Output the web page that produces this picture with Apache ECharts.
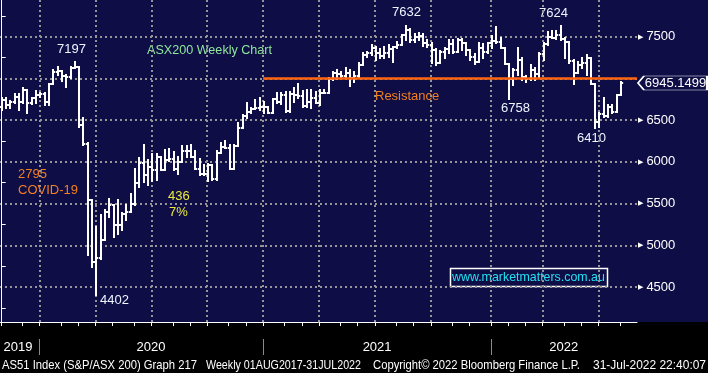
<!DOCTYPE html>
<html><head><meta charset="utf-8">
<script src="https://cdn.jsdelivr.net/npm/echarts@6/dist/echarts.min.js"></script>
<style>
html,body{margin:0;padding:0;}
#c{width:708px;height:373px;background:linear-gradient(to bottom,#0e0d46 0,#0e0d46 322px,#000 322px,#000 373px);}
</style>
</head><body><div id="c"></div>
<script>
// ---- data (weekly OHLC, first bar = week ending 2019-10-25) ----
const firstWeek = '2019-10-25';
const open  = [6660,6740,6680,6720,6780,6720,6860,6700,6760,6800,6810,6720,6930,7080,7085,7025,7020,7130,7135,6440,6215,5540,4805,4843,5060,5400,5480,5240,5245,5380,5400,5490,5752,5992,5840,5940,5900,6060,5908,6020,6028,5920,6000,6132,6132,6060,5920,5852,5860,5960,5792,6100,6172,6160,5920,6188,6400,6548,6600,6632,6640,6652,6660,6580,6748,6715,6800,6610,6810,6800,6790,6670,6720,6770,6700,6820,6830,6990,7060,7050,7030,7070,7010,7030,7160,7280,7300,7360,7300,7270,7300,7350,7380,7400,7520,7585,7460,7500,7510,7420,7400,7340,7190,7320,7350,7410,7320,7460,7420,7340,7260,7200,7360,7320,7420,7450,7440,7370,7170,6990,7100,7220,7020,6990,7100,7050,7290,7410,7500,7490,7520,7475,7440,7210,7070,7160,7180,7250,6930,6480,6575,6545,6660,6600,6800];
const high  = [6760,6765,6730,6810,6815,6885,6860,6765,6845,6830,6825,6935,7100,7140,7090,7045,7140,7197,7140,6525,6220,5545,5220,5360,5420,5560,5485,5540,5385,5480,5620,5920,6040,6200,6020,6088,6088,6060,6140,6148,6120,6060,6188,6188,6200,6132,6028,5960,5972,5960,6132,6220,6248,6200,6200,6460,6560,6700,6640,6740,6760,6720,6660,6748,6820,6830,6840,6840,6890,6930,6850,6860,6860,6840,6860,6860,7000,7080,7100,7080,7120,7100,7080,7180,7300,7320,7400,7380,7350,7380,7400,7380,7440,7520,7632,7590,7530,7550,7530,7460,7420,7350,7330,7370,7460,7460,7470,7470,7420,7340,7290,7430,7410,7430,7510,7612,7480,7370,7170,7108,7360,7240,7030,7160,7120,7300,7420,7560,7568,7568,7624,7480,7440,7220,7200,7240,7280,7250,6930,6580,6760,6680,6680,6800,6960];
const low   = [6620,6640,6640,6700,6620,6700,6590,6690,6700,6780,6680,6680,6930,7040,6970,6900,7000,7120,6420,6200,4885,4740,4402,4840,5060,5340,5100,5140,5180,5300,5395,5480,5700,5760,5720,5772,5780,5900,5900,6010,5900,5860,6000,6060,6060,5920,5840,5840,5772,5788,5788,6100,6160,5920,5920,6188,6400,6520,6580,6632,6620,6580,6580,6580,6700,6690,6600,6600,6720,6770,6660,6660,6640,6700,6680,6820,6820,6980,6990,7020,7000,6910,6960,7000,7160,7260,7280,7220,7240,7240,7260,7200,7360,7400,7460,7440,7440,7460,7390,7380,7180,7160,7180,7250,7310,7310,7320,7340,7280,7220,7170,7200,7250,7310,7370,7430,7360,7168,6758,6920,7040,6980,6960,6980,6980,7000,7220,7400,7480,7470,7460,7240,7180,6928,7070,7120,7040,6928,6410,6420,6540,6540,6580,6600,6800];
const close = [6740,6680,6720,6780,6720,6860,6700,6760,6800,6810,6720,6930,7080,7085,7025,7020,7130,7135,6440,6215,5540,4805,4843,5060,5400,5480,5240,5245,5380,5400,5490,5752,5992,5840,5940,5900,6060,5908,6020,6028,5920,6000,6132,6132,6060,5920,5852,5860,5960,5792,6100,6172,6160,5920,6188,6400,6548,6600,6632,6640,6652,6660,6580,6748,6715,6800,6610,6810,6800,6790,6670,6720,6770,6700,6820,6830,6990,7060,7050,7030,7070,7010,7030,7160,7280,7300,7360,7300,7270,7300,7350,7380,7400,7520,7585,7460,7500,7510,7420,7400,7340,7190,7320,7350,7410,7320,7460,7420,7340,7260,7200,7360,7320,7420,7450,7440,7370,7170,6990,7100,7220,7020,6990,7100,7050,7290,7410,7500,7490,7520,7475,7440,7210,7070,7160,7180,7250,6930,6480,6575,6545,6660,6600,6800,6945.1499];

const yGridValues  = [4500,5000,5500,6000,6500,7000,7500];
const yLabelValues = [4500,5000,5500,6000,6500,7500];
const yMinorValues = [4250,4750,5250,5750,6250,6750,7250,7750];
const yearLabels   = ['2019','2020','2021','2022'];
const yearLabelAt  = [3.8,34.7,87.3,130.7];   // week index where each year label is centred
const resistance = 7005;
const resistanceFrom = 60.8;                 // first week of 2021
const lastPrice = 6945.1499;
const footerParts = ['AS51 Index (S&P/ASX 200) Graph 217','Weekly 01AUG2017-31JUL2022','Copyright\u00A9 2022 Bloomberg Finance L.P.','31-Jul-2022 22:40:07'];
const footerLeft  = [2, 206, 373, 593];
const footerWidth = [195, 155, 207, 113];

// ---- week dates (category scale) ----
const totalWeeks = 149;
const weekDates = [];
{
  const t0 = Date.parse(firstWeek + 'T00:00:00Z');
  for (let i = 0; i < totalWeeks; i++) weekDates.push(new Date(t0 + i * 7 * 86400000));
}
const monthTicks = [], quarterLines = [], yearSeps = [];
for (let k = 0; k < totalWeeks - 1; k++) {
  const a = weekDates[k], b = weekDates[k + 1];
  if (a.getUTCMonth() !== b.getUTCMonth()) {
    const p = k - 0.2;
    monthTicks.push(p);
    if (b.getUTCMonth() % 3 === 0) quarterLines.push(p);
    if (b.getUTCMonth() === 0) yearSeps.push(p);
  }
}
const bars = close.map((c, k) => [k, open[k], high[k], low[k], c]);

const X_MIN = -0.395, X_MAX = 147.74;
const GRID = '#959595';
const NAVY = '#0e0d46';
const FONT = "'Liberation Sans', Arial, sans-serif";
const FOOT_SIZE = 13;

const measureCtx = document.createElement('canvas').getContext('2d');
measureCtx.font = FOOT_SIZE + "px 'Liberation Sans', Arial, sans-serif";

const chart = echarts.init(document.getElementById('c'), null, {renderer: 'canvas'});

function txt(text, x, y, color, size) {
  return {type: 'text', x: x, y: y, silent: true,
    style: {text: text, fill: color, fontSize: size || 13, fontFamily: FONT, align: 'left', verticalAlign: 'middle'}};
}
function footer(i) {
  const w = measureCtx.measureText(footerParts[i]).width || footerWidth[i];
  return {type: 'text', x: footerLeft[i], y: 365, scaleX: footerWidth[i] / w, silent: true,
    style: {text: footerParts[i], fill: '#fff', fontSize: FOOT_SIZE, fontFamily: FONT, align: 'left', verticalAlign: 'middle'}};
}

const option = {
  backgroundColor: 'transparent',
  animation: false,
  grid: {left: 0, right: 71, top: 0, bottom: 51, containLabel: false, outerBoundsMode: 'none'},
  xAxis: [
    {type: 'value', min: X_MIN, max: X_MAX, position: 'bottom',
     axisLine: {show: true, lineStyle: {color: '#fff', width: 1}},
     axisTick: {show: true, customValues: monthTicks, length: 4, lineStyle: {color: '#fff', width: 1}},
     axisLabel: {show: false}, splitLine: {show: false}},
    {type: 'value', min: X_MIN, max: X_MAX, position: 'bottom',
     axisLine: {show: false},
     axisTick: {show: false, customValues: quarterLines},
     axisLabel: {show: false},
     splitLine: {show: true, lineStyle: {color: GRID, width: 2, type: [2, 3]}}},
    {type: 'value', min: X_MIN, max: X_MAX, position: 'bottom', offset: 17,
     axisLine: {show: false},
     axisTick: {show: true, customValues: yearSeps, length: 16, lineStyle: {color: '#8a8a8a', width: 1}},
     axisLabel: {show: true, customValues: yearLabelAt, margin: 2, color: '#fff', fontSize: 13, fontFamily: FONT,
       formatter: function (v) {
         let best = 0;
         for (let i = 1; i < yearLabelAt.length; i++) if (Math.abs(yearLabelAt[i] - v) < Math.abs(yearLabelAt[best] - v)) best = i;
         return yearLabels[best];
       }},
     splitLine: {show: false}}
  ],
  yAxis: [
    {type: 'value', min: 4080, max: 7940, position: 'right',
     axisLine: {show: true, lineStyle: {color: '#fff', width: 1}},
     axisTick: {show: false, customValues: yGridValues},
     axisLabel: {show: true, customValues: yLabelValues, margin: 1, color: '#fff',
       formatter: function (v) { return '{t|\u25B6}{v|' + v + '}'; },
       rich: {
         t: {fontSize: 7, color: '#fff', fontFamily: 'DejaVu Sans', padding: [0, 3, 0, 0], verticalAlign: 'middle', lineHeight: 14},
         v: {fontSize: 13, color: '#fff', fontFamily: FONT, verticalAlign: 'middle', lineHeight: 14}
       }},
     splitLine: {show: true, lineStyle: {color: GRID, width: 2, type: [2, 3]}}},
    {type: 'value', min: 4080, max: 7940, position: 'right',
     axisLine: {show: false},
     axisTick: {show: true, customValues: yMinorValues, length: 4, lineStyle: {color: '#fff', width: 1}},
     axisLabel: {show: false}, splitLine: {show: false}}
  ],
  series: [{
    type: 'custom',
    xAxisIndex: 0, yAxisIndex: 0,
    data: bars,
    encode: {x: 0, y: [1, 2, 3, 4]},
    clip: true,
    renderItem: function (params, api) {
      const k = api.value(0);
      const pO = api.coord([k, api.value(1)]);
      const pH = api.coord([k, api.value(2)]);
      const pL = api.coord([k, api.value(3)]);
      const pC = api.coord([k, api.value(4)]);
      const half = api.size([1, 0])[0] / 2;
      const x = Math.round(pH[0]);
      const st = {stroke: '#ffffff', lineWidth: 2};
      return {type: 'group', children: [
        {type: 'line', shape: {x1: x, y1: Math.round(pH[1]) - 1, x2: x, y2: Math.round(pL[1]) + 1}, style: st},
        {type: 'line', shape: {x1: x - half, y1: Math.round(pO[1]), x2: x, y2: Math.round(pO[1])}, style: st},
        {type: 'line', shape: {x1: x, y1: Math.round(pC[1]), x2: x + half, y2: Math.round(pC[1])}, style: st}
      ]};
    },
    markLine: {
      silent: true, symbol: ['none', 'none'], animation: false,
      label: {show: false},
      lineStyle: {color: '#ff6512', width: 2.5, type: 'solid'},
      data: [[{coord: [resistanceFrom, resistance]}, {coord: [X_MAX, resistance]}]]
    },
    markPoint: {
      silent: true, animation: false,
      data: [{
        coord: [X_MAX, lastPrice],
        symbol: 'path://M0,7L6,0L69,0L69,14L6,14Z',
        symbolSize: [69, 14], symbolKeepAspect: false,
        symbolOffset: [35.5, 0],
        itemStyle: {color: NAVY, borderColor: '#fff', borderWidth: 1},
        label: {show: true, position: 'inside', formatter: String(lastPrice), offset: [3, 0],
                color: '#fff', fontSize: 13, fontFamily: FONT}
      }]
    }
  }],
  graphic: [
    txt('7197', 57, 49, '#f0f4ff'),
    txt('ASX200 Weekly Chart', 147, 51, '#8fe89c', 12.6),
    txt('7632', 392, 12, '#f0f4ff'),
    txt('7624', 539, 13, '#f0f4ff'),
    txt('Resistance', 375, 96, '#f2801f'),
    txt('6758', 501, 108, '#f0f4ff'),
    txt('6410', 577, 138, '#f0f4ff'),
    txt('4402', 100, 300, '#f0f4ff'),
    txt('2795', 18, 174, '#f2801f'),
    txt('COVID-19', 18, 190, '#f2801f'),
    txt('436', 168, 196, '#eaea3a'),
    txt('7%', 169, 212, '#eaea3a'),
    {type: 'rect', silent: true, shape: {x: 450.5, y: 268.5, width: 157, height: 18},
     style: {fill: NAVY, stroke: '#ffffff', lineWidth: 1.5}},
    txt('www.marketmatters.com.au', 452, 278, '#22e2f2', 12.4),
    footer(0), footer(1), footer(2), footer(3)
  ]
};
chart.setOption(option);
</script>
</body></html>
